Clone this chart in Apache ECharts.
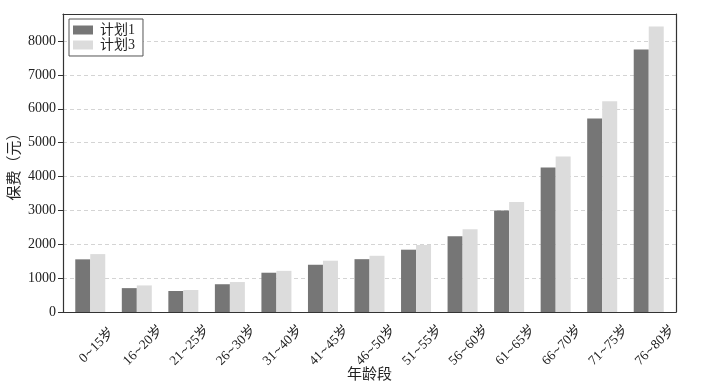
<!DOCTYPE html>
<html>
<head>
<meta charset="utf-8">
<script src="https://cdn.jsdelivr.net/npm/echarts@6/dist/echarts.min.js"></script>
<style>
html,body{margin:0;padding:0;background:#fff;}
#c{width:702px;height:388px;}
</style>
</head>
<body>
<div id="c"></div>
<script>
var categories = ['0~15岁','16~20岁','21~25岁','26~30岁','31~40岁','41~45岁','46~50岁','51~55岁','56~60岁','61~65岁','66~70岁','71~75岁','76~80岁'];
var plan1 = [1555, 705, 620, 820, 1160, 1395, 1560, 1840, 2235, 2995, 4270, 5715, 7750];
var plan3 = [1710, 785, 650, 885, 1215, 1515, 1660, 1980, 2440, 3250, 4590, 6220, 8430];
var seriesNames = ['计划1', '计划3'];
var yTicksMax = 8800;

var FONT = "'Liberation Serif', 'Times New Roman', 'Noto Sans CJK SC', serif";
var chart = echarts.init(document.getElementById('c'), null, {renderer: 'canvas'});
function lineAxis(extra) {
  var base = {
    axisLine: {show: true, onZero: false, lineStyle: {color: '#333', width: 1.2}},
    axisTick: {show: false}, axisLabel: {show: false}, splitLine: {show: false}
  };
  for (var k in extra) base[k] = extra[k];
  return base;
}
chart.setOption({
  backgroundColor: '#ffffff',
  animation: false,
  textStyle: {fontFamily: FONT},
  grid: [
    {left: 67, right: 30, top: 14, bottom: 76, containLabel: false, outerBoundsMode: 'none'},
    {left: 63, right: 26, top: 14, bottom: 76, containLabel: false, outerBoundsMode: 'none'}
  ],
  legend: {
    data: seriesNames,
    orient: 'vertical',
    left: 69, top: 19,
    padding: [4, 8, 4, 4],
    itemWidth: 20, itemHeight: 9,
    itemGap: 1,
    backgroundColor: '#fff',
    borderColor: '#555', borderWidth: 1,
    textStyle: {fontFamily: FONT, fontSize: 14, color: '#222', padding: [0,0,0,2]},
    icon: 'rect'
  },
  xAxis: [
    {
      type: 'category', gridIndex: 0, data: categories,
      axisLine: {show: false}, axisTick: {show: false}, splitLine: {show: false},
      axisLabel: {rotate: 45, interval: 0, fontFamily: FONT, fontSize: 13.5, color: '#222',
        align: 'center', verticalAlign: 'middle', margin: 40, padding: [0,0,0,18],
        formatter: function (v) { return v.split('~').join('{t|~}'); },
        rich: {t: {fontFamily: "'DejaVu Sans'", fontSize: 11, color: '#222'}}},
      name: '年龄段', nameLocation: 'middle', nameGap: 56, nameMoveOverlap: false,
      nameTextStyle: {fontFamily: FONT, fontSize: 15, color: '#222'}
    },
    lineAxis({type: 'value', gridIndex: 1, min: 0, max: 1, position: 'bottom'}),
    lineAxis({type: 'value', gridIndex: 1, min: 0, max: 1, position: 'top'})
  ],
  yAxis: [
    {
      type: 'value', gridIndex: 0, min: 0, max: yTicksMax, show: false
    },
    {
      type: 'value', gridIndex: 1, min: 0, max: yTicksMax, interval: 1000, position: 'left',
      axisLine: {show: true, onZero: false, lineStyle: {color: '#333', width: 1.2}},
      axisTick: {show: true, length: 5, lineStyle: {color: '#333'}},
      axisLabel: {fontFamily: FONT, fontSize: 14, color: '#222', margin: 7, showMaxLabel: false,
        formatter: function (v) { return String(v); }},
      splitLine: {show: true, lineStyle: {color: '#d4d4d4', type: [4, 3], width: 1}},
      name: '保费（元）', nameLocation: 'middle', nameGap: 40, nameMoveOverlap: false,
      nameTextStyle: {fontFamily: FONT, fontSize: 15, color: '#222'}
    },
    lineAxis({type: 'value', gridIndex: 1, min: 0, max: yTicksMax, position: 'right'})
  ],
  series: [
    {name: seriesNames[0], type: 'bar', xAxisIndex: 0, yAxisIndex: 0, data: plan1,
     barWidth: 15, barGap: '0%', itemStyle: {color: '#767676'}},
    {name: seriesNames[1], type: 'bar', xAxisIndex: 0, yAxisIndex: 0, data: plan3,
     barWidth: 15, barGap: '0%', itemStyle: {color: '#dcdcdc'}}
  ]
});
</script>
</body>
</html>
